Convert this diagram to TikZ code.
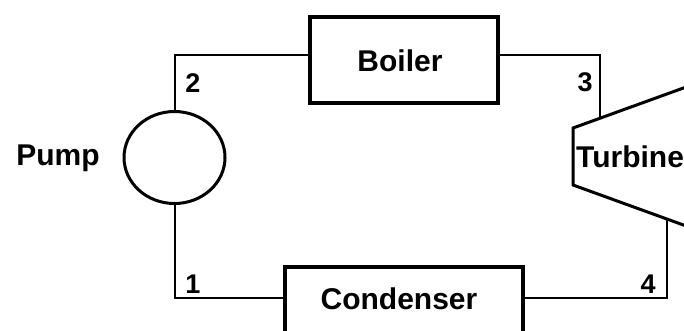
\documentclass[tikz,border=0pt]{standalone}
\usepackage{fontspec}
\setmainfont{Liberation Sans}
\usetikzlibrary{shapes.geometric}
\begin{document}
\begin{tikzpicture}[x=1pt,y=-1pt,
  pipe/.style={line width=2pt},
  unit/.style={draw,line width=4pt,rectangle,inner sep=0pt},
  lbl/.style={font=\fontsize{30}{32}\selectfont\bfseries,inner sep=0pt},
  num/.style={font=\fontsize{27}{29}\selectfont\bfseries,inner sep=0pt}]
\useasboundingbox (0,0) rectangle (684,330);
\begin{scope}
\clip (0,0) rectangle (684,330);
% components
\node[draw,ellipse,line width=3pt,minimum width=101pt,minimum height=92pt,inner sep=0pt] (pump) at (174.5,157.5) {};
\node[unit,minimum width=188pt,minimum height=86pt] (boiler) at (404,60) {};
\node[unit,minimum width=238pt,minimum height=66pt] (condenser) at (404,300) {};
\draw[line width=3pt,line join=miter] (700,82) coordinate (ttop) -- (573,128) -- (573,185) -- (700,231) coordinate (tbot);
% turbine ports on the casing
\coordinate (tin) at (600,118.5);
\coordinate (tout) at (667,219);
% pipework
\coordinate (bin) at (310,55);
\coordinate (bout) at (498,55);
\coordinate (cin) at (523,298);
\coordinate (cout) at (285,298);
\draw[pipe] (pump.north) |- (bin);
\draw[pipe] (bout) -| (tin);
\draw[pipe] (tout) |- (cin);
\draw[pipe] (cout) -| (pump.south);
% labels
\node[lbl] (lboiler) at (400,61) {Boiler};
\node[lbl] (lcond) at (399,299) {Condenser};
\node[lbl] (lpump) at (58,158) {Pump};
\node[lbl,anchor=west] (lturb) at (576,157) {Turbine};
\node[num] (n1) at (193,284) {1};
\node[num] (n2) at (193,83) {2};
\node[num] (n3) at (585,82) {3};
\node[num] (n4) at (648,284) {4};
\end{scope}
\end{tikzpicture}
\end{document}
